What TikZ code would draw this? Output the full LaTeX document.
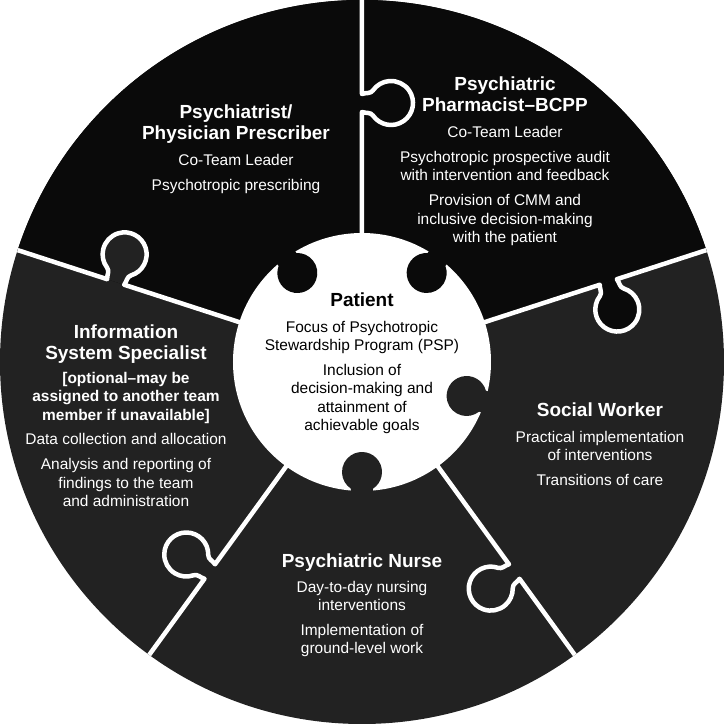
\documentclass[tikz,border=0pt]{standalone}
\usepackage{fontspec}
\setmainfont{Liberation Sans}
\definecolor{pspblack}{HTML}{0A0A0A}
\definecolor{pspgrey}{HTML}{222222}
\usetikzlibrary{positioning}
\tikzset{
  roletitle/.style={font=\fontsize{13.5}{15.6}\selectfont\bfseries,align=center,inner sep=0,anchor=north,text=white},
  roletext/.style={font=\fontsize{11}{13.1}\selectfont,align=center,inner sep=0,anchor=north,text=white},
  divider/.style={white,line width=3.2pt,line join=round},
}
\begin{document}
\begin{tikzpicture}[x=0.025cm,y=0.025cm]
\useasboundingbox (-362,-362) rectangle (362,362);
\fill[pspgrey] (0,0) circle[radius=362];
\fill[pspblack] (0,0) -- (18:362) arc[start angle=18,end angle=162,radius=362] -- cycle;
\foreach \a/\c in {18/pspblack,90/pspblack,162/pspgrey,234/pspgrey,306/pspgrey}
  \fill[\c,rotate=\a] (250,0) to[out=250,in=35] (246.4,-11) arc[start angle=125,end angle=415,radius=22] to[out=145,in=290] (268,0) -- cycle;
\fill[white] (0,0) circle[radius=129];
\foreach \a/\c in {54/pspblack,126/pspblack,270/pspgrey,342/pspgrey}
  \fill[\c,rotate=\a] (135,11) -- (126.7,11) arc[start angle=33.4,end angle=326.6,radius=20] -- (135,-11) -- cycle;
\foreach \a in {18,90,162,234,306}
  \draw[divider,rotate=\a] (125,0) -- (250,0) to[out=250,in=35] (246.4,-11) arc[start angle=125,end angle=415,radius=22] to[out=145,in=290] (268,0) -- (362,0);
\node[roletitle] (prescribert) at (-126,258) {Psychiatrist/\\Physician Prescriber};
\node[roletext] (prescriberb) at (-126,208) {Co-Team Leader\\[4.6pt]Psychotropic prescribing};
\node[roletitle] (pharmacistt) at (143,286) {Psychiatric\\Pharmacist–BCPP};
\node[roletext] (pharmacistb) at (143,236) {Co-Team Leader\\[4.6pt]Psychotropic prospective audit\\with intervention and feedback\\[4.6pt]Provision of CMM and\\inclusive decision-making\\with the patient};
\node[roletitle] (infot) at (-236,38) {Information\\System Specialist};
\node[roletext] (infob) at (-236,-9.7) {\textbf{[optional–may be}\\\textbf{assigned to another team}\\\textbf{member if unavailable]}\\[4.6pt]Data collection and allocation\\[4.6pt]Analysis and reporting of\\findings to the team\\and administration};
\node[roletitle] (socialt) at (238,-40) {Social Worker};
\node[roletext] (socialb) at (238,-68.7) {Practical implementation\\of interventions\\[4.6pt]Transitions of care};
\node[roletitle] (nurset) at (0,-191) {Psychiatric Nurse};
\node[roletext] (nurseb) at (0,-218.7) {Day-to-day nursing\\interventions\\[4.6pt]Implementation of\\ground-level work};
\node[roletitle,text=black] (patientt) at (0,70) {Patient};
\node[roletext,text=black] (patientb) at (0,41.3) {Focus of Psychotropic\\Stewardship Program (PSP)\\[4.6pt]Inclusion of\\decision-making and\\attainment of\\achievable goals};
\end{tikzpicture}
\end{document}
